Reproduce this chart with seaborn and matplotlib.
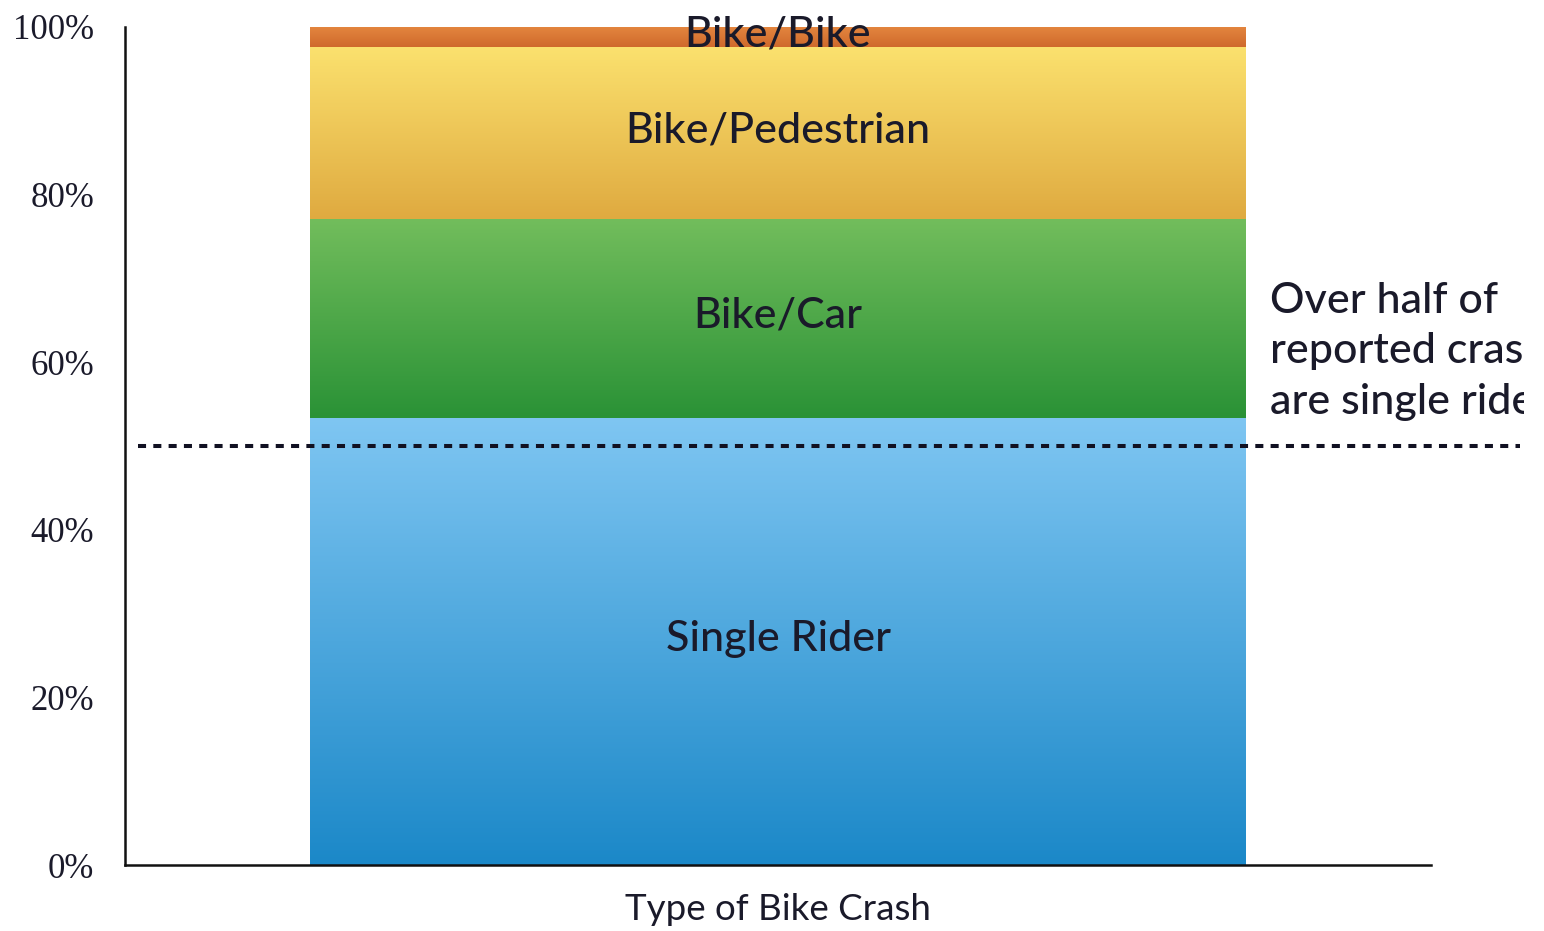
import numpy as np
import pandas as pd
import matplotlib
matplotlib.use("Agg")
import matplotlib.pyplot as plt
import seaborn as sns
from matplotlib.colors import LinearSegmentedColormap
from matplotlib.transforms import Bbox, TransformedBbox

# data (percent of reported crashes)
crash_group = "Type of Bike Crash"
crash_types = ["Single Rider", "Bike/Car", "Bike/Pedestrian", "Bike/Bike"]
crash_share = [53.4, 23.7, 20.5, 2.4]
y_ticks = [0, 20, 40, 60, 80, 100]
threshold = 50
note_text = "Over half of\nreported crashes\nare single riders"

# gradient colours per segment (top, bottom)
grad_top = ["#7fc6f2", "#72bd5c", "#fbe16e", "#e4863f"]
grad_bottom = ["#1b88c8", "#2a9236", "#dfaa40", "#cf6a2c"]

TEXT = "#1a1a2a"

sns.set_style("white")
plt.rcParams["font.family"] = ["Lato", "DejaVu Sans"]

cum_top = np.cumsum(crash_share)
cum_bottom = cum_top - np.array(crash_share)

df = pd.DataFrame({"group": crash_group, "type": crash_types, "top": cum_top})

fig = plt.figure(figsize=(15.44, 9.31), dpi=100)
ax = fig.add_axes([125 / 1544, 66 / 931, 1306 / 1544, 838 / 931])

# overlay cumulative bars, tallest first, so each visible piece is one segment
bar_w = 0.716
for i in range(len(crash_types) - 1, -1, -1):
    sub = df.iloc[[i]]
    sns.barplot(data=sub, x="group", y="top", color=grad_bottom[i], width=bar_w,
                linewidth=0, saturation=1, ax=ax, errorbar=None)

# gradient fill for each segment
patch = ax.patches[0]
x0, x1 = patch.get_x(), patch.get_x() + patch.get_width()
grad = np.linspace(0, 1, 256).reshape(-1, 1)
for i, name in enumerate(crash_types):
    cmap = LinearSegmentedColormap.from_list(name, [grad_bottom[i], grad_top[i]])
    ax.imshow(grad, cmap=cmap, origin="lower", aspect="auto",
              extent=(x0, x1, cum_bottom[i], cum_top[i]), zorder=2, interpolation="bicubic")
    ax.text(0, (cum_bottom[i] + cum_top[i]) / 2 + 0.3, name, ha="center", va="center",
            fontsize=31, fontweight="medium", color=TEXT, zorder=4)

ax.set_xlim(-0.5, 0.5)
ax.set_ylim(0, 100)
ax.set_yticks(y_ticks)
ax.set_yticklabels([f"{t}%" for t in y_ticks], family="Liberation Serif", fontsize=25, color=TEXT)
ax.tick_params(axis="y", length=0, pad=22)
ax.tick_params(axis="x", length=0, pad=20, labelsize=26.5, labelcolor=TEXT)
ax.set_xlabel("")
ax.set_ylabel("")

sns.despine(ax=ax)
for side in ["left", "bottom"]:
    ax.spines[side].set_color("#111111")
    ax.spines[side].set_linewidth(1.8)

# 50% reference line running past the axes
ax.axhline(threshold, xmin=13 / 1306, xmax=1395 / 1306, color="#111122",
           linestyle=(0, (2.0, 1.8)), linewidth=2.9, clip_on=False, zorder=5)

note = ax.text(1145 / 1306, 61.3, note_text, transform=ax.get_yaxis_transform(),
               ha="left", va="center", fontsize=31, fontweight="medium", color=TEXT,
               linespacing=1.4, clip_on=True)
note.set_clip_box(TransformedBbox(Bbox([[0, 0], [1524 / 1544, 1]]), fig.transFigure))

fig.savefig("out.png", dpi=100)
